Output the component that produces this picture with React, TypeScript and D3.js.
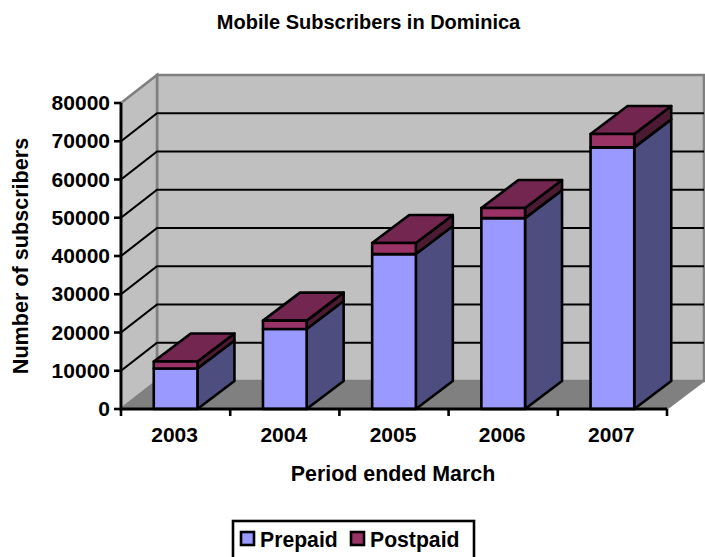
import React from "react";
import * as d3 from "d3";

const categories = ["2003", "2004", "2005", "2006", "2007"];
const prepaid = [10600, 20900, 40500, 49900, 68400];
const postpaid = [1800, 2200, 2900, 2650, 3500];
const yTicks = [0, 10000, 20000, 30000, 40000, 50000, 60000, 70000, 80000];

const FONT = "'Liberation Sans', Arial, sans-serif";
const W = 705, H = 557;
const depthX = 37, depthY = 28, wallX = 36;
const left = 121, right = 667, bottom = 409, top = 103;

const C = {
  wall: "#C0C0C0", floor: "#808080", edge: "#808080",
  preFront: "#9999FF", preSide: "#4D4D80",
  postFront: "#993366", postSide: "#4D1A33", postTop: "#732650",
};

const pts = (a: number[][]) => a.map((p) => p.join(",")).join(" ");

export default function App() {
  const x = d3.scaleBand<string>().domain(categories).range([left, right]).paddingInner(0.6).paddingOuter(0.3);
  const band = d3.scaleBand<string>().domain(categories).range([left, right]);
  const y = d3.scaleLinear().domain([0, 80000]).range([bottom, top]);
  const bw = x.bandwidth();

  const box = (x0: number, y0: number, y1: number, front: string, side: string, topFill?: string) => (
    <g stroke="#000" strokeWidth={2.6} strokeLinejoin="round">
      <polygon points={pts([[x0 + bw, y0], [x0 + bw + depthX, y0 - depthY], [x0 + bw + depthX, y1 - depthY], [x0 + bw, y1]])} fill={side} />
      {topFill && <polygon points={pts([[x0, y1], [x0 + depthX, y1 - depthY], [x0 + bw + depthX, y1 - depthY], [x0 + bw, y1]])} fill={topFill} />}
      <rect x={x0} y={y1} width={bw} height={y0 - y1} fill={front} />
    </g>
  );

  return (
    <svg width={W} height={H} style={{ position: "fixed", left: 0, top: 0, background: "#fff" }} fontFamily={FONT} fontWeight="bold" fill="#000">
      <text x={368.5} y={29} textAnchor="middle" fontSize={20}>Mobile Subscribers in Dominica</text>

      <polygon points={pts([[left + wallX, top - depthY], [right + depthX, top - depthY], [right + depthX, bottom - depthY], [left + wallX, bottom - depthY]])} fill={C.wall} stroke={C.edge} strokeWidth={2.6} />
      <polygon points={pts([[left, top], [left + wallX, top - depthY], [left + wallX, bottom - depthY], [left, bottom]])} fill={C.wall} stroke={C.edge} strokeWidth={2.6} />
      <polygon points={pts([[left, bottom], [left + wallX, bottom - depthY], [right + depthX, bottom - depthY], [right, bottom]])} fill={C.floor} stroke={C.edge} strokeWidth={1.5} />

      {yTicks.filter((t) => t > 0 && t < 80000).map((t) => (
        <path key={t} d={`M${left},${y(t)}L${left + wallX},${y(t) - depthY}H${right + depthX}`} fill="none" stroke="#000" strokeWidth={2.2} />
      ))}

      {categories.map((c, i) => {
        const x0 = x(c)!;
        const yp = y(prepaid[i]);
        const yt = y(prepaid[i] + postpaid[i]);
        return (
          <g key={c}>
            {box(x0, bottom, yp, C.preFront, C.preSide)}
            {box(x0, yp, yt, C.postFront, C.postSide, C.postTop)}
          </g>
        );
      })}

      <path d={`M${left},${top}V${bottom}H${right}`} fill="none" stroke="#000" strokeWidth={2.8} />
      {yTicks.map((t) => (
        <g key={t}>
          <line x1={left - 7} x2={left} y1={y(t)} y2={y(t)} stroke="#000" strokeWidth={2.6} />
          <text x={left - 11} y={y(t) + 7} textAnchor="end" fontSize={21}>{t}</text>
        </g>
      ))}
      {[...categories.map((c) => band(c)!), right].map((v) => (
        <line key={v} x1={v} x2={v} y1={bottom} y2={bottom + 7} stroke="#000" strokeWidth={2.6} />
      ))}
      {categories.map((c) => (
        <text key={c} x={band(c)! + band.bandwidth() / 2 - 1} y={441.5} textAnchor="middle" fontSize={21}>{c}</text>
      ))}

      <text x={393} y={481} textAnchor="middle" fontSize={21.4}>Period ended March</text>
      <text transform="translate(28,256) rotate(-90)" textAnchor="middle" fontSize={21.6}>Number of subscribers</text>

      <rect x={233} y={521} width={241} height={50} fill="#fff" stroke="#000" strokeWidth={2.6} />
      <rect x={241} y={532} width={13} height={13} fill={C.preFront} stroke="#000" strokeWidth={2.6} />
      <text x={260} y={546.5} fontSize={21.2}>Prepaid</text>
      <rect x={351} y={532} width={13} height={13} fill={C.postFront} stroke="#000" strokeWidth={2.6} />
      <text x={370} y={546.5} fontSize={21.2}>Postpaid</text>
    </svg>
  );
}
